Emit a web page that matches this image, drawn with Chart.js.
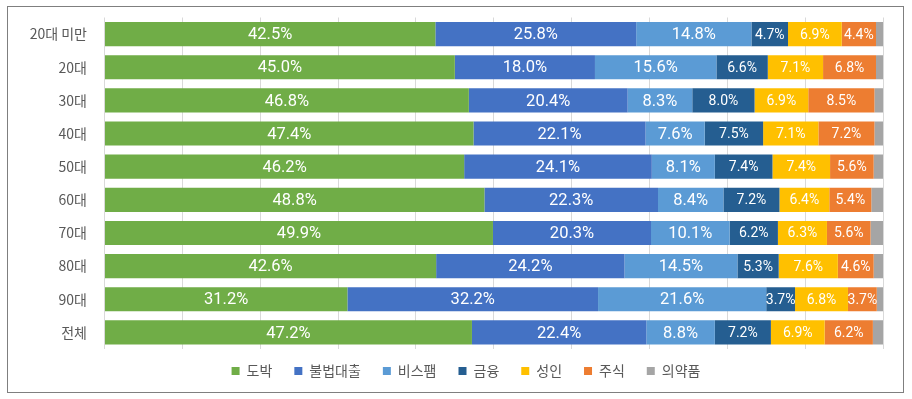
<!DOCTYPE html>
<html>
<head>
<meta charset="utf-8">
<script src="https://cdn.jsdelivr.net/npm/chart.js@4"></script>
<style>
  html, body { margin: 0; padding: 0; background: #fff; }
  #wrap { position: relative; width: 912px; height: 399px; }
  #frame {
    position: absolute; left: 7px; top: 6px; width: 895px; height: 385px;
    border: 1px solid #7f7f7f; pointer-events: none;
  }
</style>
</head>
<body>
<div id="wrap">
  <canvas id="ageChart" width="912" height="399"></canvas>
  <div id="frame"></div>
</div>
<script>
// categories (top to bottom) and series values in percent
const ageGroups = ["20대 미만", "20대", "30대", "40대", "50대", "60대", "70대", "80대", "90대", "전체"];
const seriesNames = ["도박", "불법대출", "비스팸", "금융", "성인", "주식", "의약품"];
const gambling   = [42.5, 45.0, 46.8, 47.4, 46.2, 48.8, 49.9, 42.6, 31.2, 47.2];
const illegalLoan = [25.8, 18.0, 20.4, 22.1, 24.1, 22.3, 20.3, 24.2, 32.2, 22.4];
const nonSpam    = [14.8, 15.6, 8.3, 7.6, 8.1, 8.4, 10.1, 14.5, 21.6, 8.8];
const finance    = [4.7, 6.6, 8.0, 7.5, 7.4, 7.2, 6.2, 5.3, 3.7, 7.2];
const adult      = [6.9, 7.1, 6.9, 7.1, 7.4, 6.4, 6.3, 7.6, 6.8, 6.9];
const stocks     = [4.4, 6.8, 8.5, 7.2, 5.6, 5.4, 5.6, 4.6, 3.7, 6.2];
const medicine   = [0.9, 0.9, 1.1, 1.1, 1.2, 1.5, 1.6, 1.2, 0.8, 1.3];
const xTicks     = [0, 10, 20, 30, 40, 50, 60, 70, 80, 90, 100];

const colors = ["#70AD47", "#4472C4", "#5B9BD5", "#255E91", "#FFC000", "#ED7D31", "#A5A5A5"];
const allSeries = [gambling, illegalLoan, nonSpam, finance, adult, stocks, medicine];

// draw the percent labels in the middle of each segment (not for 의약품)
const segmentLabels = {
  id: "segmentLabels",
  afterDatasetsDraw(chart) {
    const ctx = chart.ctx;
    ctx.save();
    ctx.fillStyle = "#ffffff";
    ctx.textAlign = "center";
    ctx.textBaseline = "middle";
    chart.data.datasets.forEach((ds, i) => {
      if (i === 6) return;
      ctx.font = (i < 3 ? "16.5px" : "14px") + " Roboto";
      chart.getDatasetMeta(i).data.forEach((bar, j) => {
        let cx = (bar.x + bar.base) / 2;
        ctx.fillText(ds.data[j].toFixed(1) + "%", cx, bar.y + 1);
      });
    });
    ctx.restore();
  }
};

// the legend sits a bit right of the canvas centre in the original, move it there
const legendPlacement = {
  id: "legendPlacement",
  afterLayout(chart) {
    const lg = chart.legend;
    const dx = 466 - (lg.left + lg.right) / 2;
    const dy = 371 - (lg.top + lg.options.labels.padding + 7);
    lg.left += dx; lg.right += dx;
    lg.top += dy; lg.bottom += dy;
  }
};

let ctx = document.getElementById("ageChart").getContext("2d");
new Chart(ctx, {
  type: "bar",
  data: {
    labels: ageGroups,
    datasets: allSeries.map((vals, i) => ({
      label: seriesNames[i],
      data: vals,
      backgroundColor: colors[i],
      borderWidth: 0,
      categoryPercentage: 1,
      barPercentage: 0.73,
    })),
  },
  options: {
    indexAxis: "y",
    responsive: false,
    animation: false,
    layout: { padding: { top: 17.5, right: 29, bottom: 0, left: 0 } },
    scales: {
      x: {
        stacked: true,
        min: 0,
        max: 100,
        afterBuildTicks: (scale) => { scale.ticks = xTicks.map((v) => ({ value: v })); },
        ticks: { display: false },
        grid: { color: "#d9d9d9", drawTicks: false },
        border: { display: false },
        afterFit: (scale) => { scale.height = 4; },
      },
      y: {
        stacked: true,
        // tick marks are hidden, their length only pushes the labels left
        grid: { display: false, drawTicks: true, tickLength: 17.5 },
        border: { display: false },
        ticks: {
          padding: 0,
          color: "#595959",
          font: { family: "'Noto Sans CJK KR'", size: 14 },
        },
        afterFit: (scale) => { scale.width = 104.5; },
      },
    },
    plugins: {
      legend: {
        position: "bottom",
        labels: {
          boxWidth: 8,
          boxHeight: 8,
          padding: 22,
          color: "#595959",
          font: { family: "'Noto Sans CJK KR'", size: 14 },
        },
      },
      tooltip: { enabled: false },
    },
  },
  plugins: [segmentLabels, legendPlacement],
});
</script>
</body>
</html>
